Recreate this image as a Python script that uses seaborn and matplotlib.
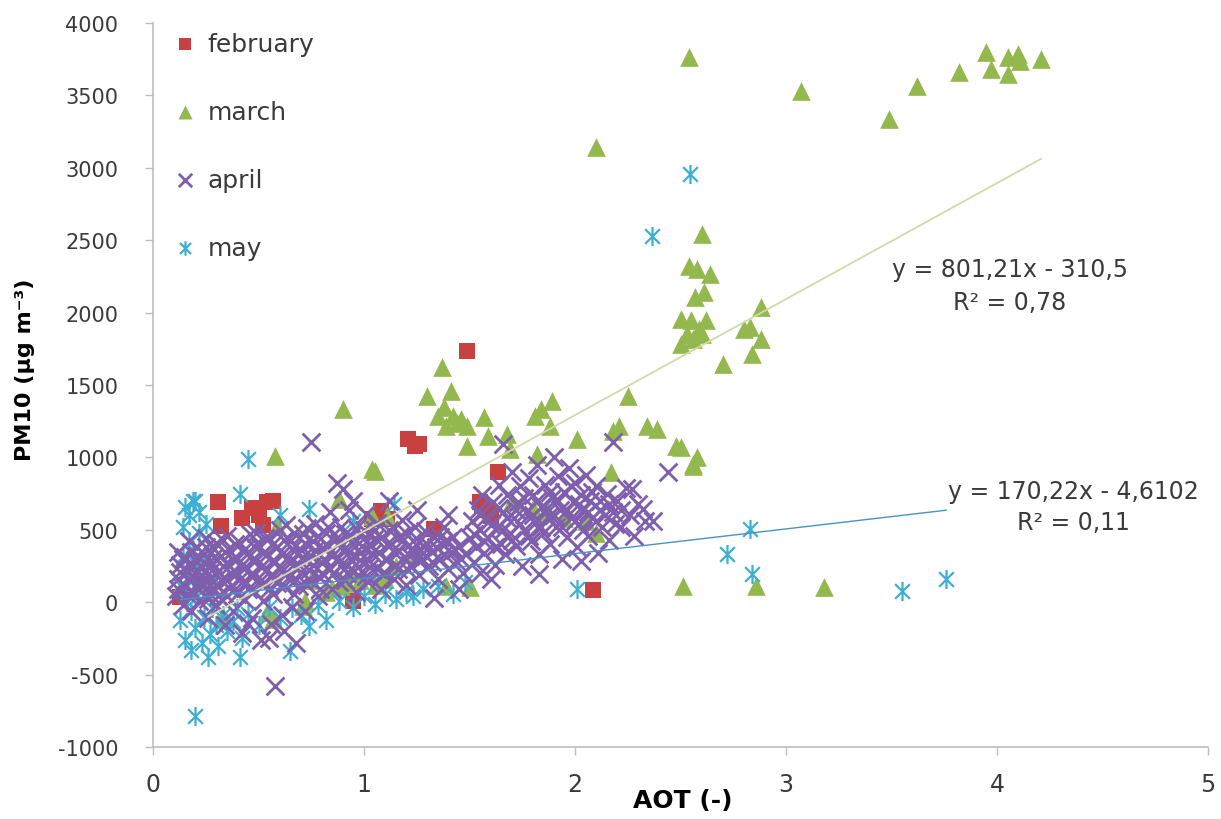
import matplotlib
matplotlib.use("Agg")
import numpy as np
import pandas as pd
import matplotlib.pyplot as plt
import seaborn as sns
from matplotlib.path import Path

# ---- measurements: (AOT, PM10) pairs per month ----
feb_points = [
    (0.13, 38), (0.31, 694), (0.32, 528), (0.42, 580), (0.47, 650), (0.50, 600),
    (0.54, 690), (0.57, 700), (0.52, 530), (0.95, 10), (1.04, 577), (1.08, 632),
    (1.11, 577), (1.21, 1129), (1.24, 1081), (1.26, 1095), (1.33, 508), (1.49, 1737),
    (1.55, 694), (1.56, 666), (1.60, 597), (1.59, 640), (1.635, 901), (2.085, 86),
]

mar_points = [
    (3.49, 3339), (3.62, 3567), (3.82, 3664), (3.95, 3802), (3.97, 3684), (4.05, 3767),
    (4.05, 3650), (4.10, 3788), (4.11, 3740), (4.21, 3753),
    (2.54, 3767), (3.07, 3532), (2.10, 3146), (2.60, 2545),
    (2.54, 2324), (2.58, 2302), (2.64, 2269), (2.61, 2145), (2.57, 2110), (2.50, 1957),
    (2.53, 1854), (2.50, 1785), (2.56, 1820), (2.59, 1888), (2.62, 1950), (2.70, 1647),
    (2.80, 1888), (2.83, 1900), (2.84, 1716), (2.88, 1820), (2.88, 2041), (2.55, 1950),
    (2.60, 1850),
    (0.90, 1337), (1.37, 1627), (1.30, 1426), (1.41, 1461), (1.38, 1350), (1.35, 1288),
    (1.42, 1288), (1.46, 1267), (1.39, 1219), (1.49, 1219), (1.57, 1281), (1.59, 1150),
    (1.68, 1164), (1.49, 1081), (1.69, 1060), (1.81, 1288), (1.84, 1337), (1.89, 1392),
    (1.88, 1219), (1.82, 1026), (2.01, 1129), (2.25, 1426), (2.18, 1184), (2.21, 1219),
    (2.34, 1219), (2.39, 1198), (2.17, 901), (1.05, 908), (2.48, 1081), (2.56, 943),
    (2.58, 1005), (2.50, 1074), (2.56, 957), (0.58, 1012), (1.44, 1240), (1.04, 920),
    (2.51, 114), (2.86, 114), (3.18, 107),
    (0.88, 715), (0.59, 528), (1.04, 598), (1.11, 598), (0.89, 114), (0.82, 72),
    (0.54, -66), (0.57, -114), (0.71, -24), (0.33, -93), (0.33, -114), (0.72, 10),
    (1.39, 114), (1.50, 107), (1.80, 650), (1.87, 620), (1.95, 580), (2.05, 560),
    (1.70, 700), (2.10, 480), (1.25, 330), (1.15, 250), (0.95, 200), (0.75, 150),
    (0.85, 100), (0.92, 130), (0.98, 150), (1.05, 120), (1.10, 160), (0.26, 150),
]

apr_points = [
    (0.11, 40), (0.12, 160), (0.13, 260), (0.12, 350), (0.14, -20), (0.15, 110),
    (0.16, 210), (0.15, 310), (0.17, 420), (0.18, -60), (0.19, 70), (0.19, 180),
    (0.20, 290), (0.21, 380), (0.22, 10), (0.23, 130), (0.23, 240), (0.24, 330),
    (0.25, 440), (0.26, -110), (0.27, 60), (0.27, 170), (0.28, 270), (0.29, 370),
    (0.30, -20), (0.31, 110), (0.31, 210), (0.32, 320), (0.33, 430), (0.34, -160),
    (0.35, 40), (0.35, 150), (0.36, 250), (0.37, 350), (0.38, -60), (0.39, 90),
    (0.40, 200), (0.40, 300), (0.41, 410), (0.42, -210), (0.43, 20), (0.44, 140),
    (0.44, 240), (0.45, 340), (0.46, 470), (0.47, -110), (0.48, 80), (0.48, 190),
    (0.49, 290), (0.50, 390), (0.51, -260), (0.52, 10), (0.53, 130), (0.54, 230),
    (0.54, 330), (0.55, 440), (0.56, -150), (0.57, 60), (0.58, 170), (0.58, 280),
    (0.59, 380), (0.60, 500), (0.61, -90), (0.62, 110), (0.63, 210), (0.64, 310),
    (0.65, 420), (0.66, -30), (0.67, 60), (0.68, 160), (0.69, 260), (0.70, 360),
    (0.71, 470), (0.72, -60), (0.73, 120), (0.74, 220), (0.75, 320), (0.76, 420),
    (0.77, 540), (0.78, 40), (0.79, 170), (0.80, 270), (0.81, 370), (0.82, 480),
    (0.84, 620), (0.85, 90), (0.86, 200), (0.87, 300), (0.88, 410), (0.89, 520),
    (0.90, 780), (0.91, 150), (0.92, 250), (0.93, 350), (0.94, 460), (0.95, 700),
    (0.96, 70), (0.97, 190), (0.98, 290), (0.99, 390), (1.00, 500), (1.01, 610),
    (1.02, 140), (1.03, 240), (1.04, 340), (1.05, 440), (1.06, 550), (1.08, 90),
    (1.09, 200), (1.10, 300), (1.11, 400), (1.12, 500), (1.14, 160), (1.15, 260),
    (1.16, 360), (1.17, 460), (1.18, 570), (1.20, 120), (1.21, 220), (1.22, 320),
    (1.23, 420), (1.24, 520), (1.26, 190), (1.27, 290), (1.28, 390), (1.29, 490),
    (1.31, 250), (1.32, 350), (1.33, 450), (1.35, 160), (1.36, 300), (1.37, 400),
    (1.38, 520), (1.40, 230), (1.41, 350), (1.42, 450), (1.44, 280), (1.45, 390),
    (1.47, 200), (1.48, 330),
    (0.12, 90), (0.13, 210), (0.14, 300), (0.16, 60), (0.17, 160), (0.18, 260),
    (0.18, 350), (0.20, 110), (0.20, 200), (0.21, 320), (0.22, 90), (0.23, 190),
    (0.24, 280), (0.25, 380), (0.26, 20), (0.27, 120), (0.28, 220), (0.29, 310),
    (0.30, 410), (0.31, 40), (0.32, 150), (0.33, 250), (0.34, 350), (0.35, 460),
    (0.36, 100), (0.37, 200), (0.38, 300), (0.39, 400), (0.40, 60), (0.41, 160),
    (0.42, 260), (0.43, 360), (0.45, 90), (0.46, 190), (0.47, 290), (0.48, 390),
    (0.49, 480), (0.50, 140), (0.51, 240), (0.52, 340), (0.53, 440), (0.55, 90),
    (0.56, 190), (0.57, 290), (0.57, 400), (0.59, 130), (0.60, 230), (0.61, 330),
    (0.62, 430), (0.63, 530), (0.64, 170), (0.65, 270), (0.66, 370), (0.67, 480),
    (0.69, 110), (0.70, 210), (0.71, 310), (0.72, 410), (0.73, 510), (0.74, 160),
    (0.76, 260), (0.77, 360), (0.78, 460), (0.79, 90), (0.80, 200), (0.81, 300),
    (0.82, 400), (0.83, 520), (0.84, 230), (0.86, 330), (0.87, 440), (0.88, 140),
    (0.89, 260), (0.90, 360), (0.91, 470), (0.92, 200), (0.94, 300), (0.95, 400),
    (0.96, 510), (0.97, 240), (0.98, 340), (1.00, 440), (1.01, 180), (1.02, 290),
    (1.03, 390), (1.05, 500), (1.06, 230), (1.07, 340), (1.08, 440), (1.10, 200),
    (1.11, 300), (1.13, 400), (1.14, 510), (1.15, 330), (1.16, 230), (1.18, 420),
    (1.19, 310), (1.20, 480), (1.22, 260), (1.23, 370), (1.25, 300), (1.26, 420),
    (1.28, 340), (1.30, 400), (1.32, 280), (1.34, 380), (1.36, 450), (1.38, 330),
    (1.40, 420), (1.43, 360), (1.46, 300),
    (1.50, 440), (1.51, 560), (1.52, 280), (1.53, 380), (1.54, 640), (1.55, 500),
    (1.56, 740), (1.57, 340), (1.58, 590), (1.59, 440), (1.61, 690), (1.62, 260),
    (1.63, 520), (1.64, 810), (1.65, 400), (1.66, 620), (1.67, 330), (1.68, 740),
    (1.69, 480), (1.70, 900), (1.71, 580), (1.72, 390), (1.73, 690), (1.74, 800),
    (1.75, 250), (1.76, 500), (1.77, 620), (1.78, 860), (1.79, 420), (1.80, 740),
    (1.81, 550), (1.82, 950), (1.83, 330), (1.84, 660), (1.85, 480), (1.86, 810),
    (1.87, 590), (1.88, 400), (1.89, 720), (1.90, 1000), (1.91, 520), (1.92, 870),
    (1.93, 640), (1.94, 300), (1.95, 760), (1.96, 450), (1.97, 930), (1.98, 580),
    (1.99, 690), (2.00, 820), (2.01, 380), (2.02, 540), (2.03, 740), (2.04, 640),
    (2.05, 880), (2.06, 460), (2.07, 700), (2.08, 580), (2.10, 800), (2.11, 340),
    (2.12, 640), (2.13, 520), (2.15, 750), (2.16, 430), (2.18, 620), (2.20, 700),
    (2.22, 520), (2.24, 790), (2.26, 600), (2.28, 460), (2.30, 680), (2.33, 560),
    (1.52, 470), (1.55, 600), (1.57, 420), (1.60, 530), (1.62, 380), (1.64, 650),
    (1.66, 500), (1.68, 580), (1.70, 430), (1.72, 640), (1.74, 540), (1.76, 720),
    (1.78, 460), (1.80, 600), (1.82, 700), (1.84, 520), (1.86, 640), (1.88, 760),
    (1.90, 600), (1.92, 700), (1.94, 520), (1.96, 640), (1.98, 800), (2.00, 560),
    (2.02, 680), (2.04, 500), (2.06, 620), (2.08, 760), (2.10, 560), (2.12, 700),
    (2.14, 600), (2.16, 680), (2.19, 540), (2.22, 640),
    (0.75, 1108), (0.58, -576), (1.66, 1094), (2.18, 1108), (2.44, 901), (1.60, 162),
    (1.83, 197), (2.03, 287), (2.37, 563), (2.32, 646), (2.27, 784), (0.55, -250),
    (0.62, -200), (0.45, -150), (0.68, -280), (0.87, 820), (0.93, 640), (1.12, 700),
    (1.25, 640), (1.40, 600), (1.45, 90), (1.33, 30), (1.55, 200),
]

may_points = [
    (0.13, -120), (0.13, 120), (0.14, 320), (0.14, 520), (0.15, 660), (0.15, -260),
    (0.16, 0), (0.16, 220), (0.17, 420), (0.17, 600), (0.18, -330), (0.18, -60),
    (0.19, 150), (0.19, 360), (0.20, 700), (0.20, -180), (0.21, 40), (0.21, 260),
    (0.22, 480), (0.22, 620), (0.23, -280), (0.24, -100), (0.24, 90), (0.25, 300),
    (0.25, 540), (0.26, -378), (0.27, -220), (0.28, -40), (0.29, 170), (0.30, -160),
    (0.31, -300), (0.33, -90), (0.35, -200), (0.38, -130), (0.40, -40), (0.42, -250),
    (0.45, -80), (0.50, -160), (0.55, -30), (0.60, -110), (0.65, -335), (0.66, -40),
    (0.70, -90), (0.74, -162), (0.78, -20), (0.82, -120), (0.88, 10), (0.95, -30),
    (1.00, 40), (1.05, -10), (1.10, 60), (1.15, 20), (1.20, 70), (1.23, 45),
    (1.28, 90), (1.35, 110), (1.42, 60), (1.48, 140),
    (0.20, -783), (0.41, -378), (0.45, 991), (0.41, 749), (0.74, 645), (1.14, 680),
    (0.95, 560), (0.60, 600), (0.19, 701),
    (2.545, 2958), (2.365, 2531), (2.83, 505), (2.72, 335), (2.84, 197), (2.01, 93),
    (3.55, 80), (3.76, 162),
]

# linear trend lines (slope, intercept) and their R²
mar_fit = (801.21, -310.5)
mar_r2 = "0,78"
may_fit = (170.22, -4.6102)
may_r2 = "0,11"

x_ticks = [0, 1, 2, 3, 4, 5]
y_ticks = list(range(-1000, 4001, 500))

RED = "#C8403F"
GREEN = "#93B84E"
PURPLE = "#7E5EAD"
CYAN = "#3DAFD2"
TEXT = "#3A3A3A"
AXIS = "#BDBDBD"

sns.set_style("white")
plt.rcParams["font.family"] = ["DejaVu Sans"]

fig = plt.figure(figsize=(12.21, 8.2), dpi=100)
ax = fig.add_axes([153 / 1221, 1 - 748 / 820, 1055 / 1221, 724 / 820])


def frame(points):
    return pd.DataFrame(points, columns=["aot", "pm10"])


# asterisk marker: an x with a vertical bar
star = Path([(-1, -1), (1, 1), (-1, 1), (1, -1), (0, -1.3), (0, 1.3)],
            [Path.MOVETO, Path.LINETO] * 3)

sns.scatterplot(data=frame(feb_points), x="aot", y="pm10", marker="s", s=125,
                color=RED, edgecolor=RED, linewidth=0, label="february", ax=ax, zorder=3)
sns.scatterplot(data=frame(mar_points), x="aot", y="pm10", marker="^", s=180,
                color=GREEN, edgecolor=GREEN, linewidth=0, label="march", ax=ax, zorder=3)
sns.scatterplot(data=frame(may_points), x="aot", y="pm10", marker=star, s=190,
                color=CYAN, edgecolor=CYAN, linewidth=1.6, label="may", ax=ax, zorder=3)
sns.scatterplot(data=frame(apr_points), x="aot", y="pm10", marker="x", s=165,
                color=PURPLE, linewidth=2.0, label="april", ax=ax, zorder=3)

# trend lines over the range of each month's data
mar_x = np.array([min(p[0] for p in mar_points), max(p[0] for p in mar_points)])
may_x = np.array([min(p[0] for p in may_points), max(p[0] for p in may_points)])
sns.lineplot(x=mar_x, y=mar_fit[0] * mar_x + mar_fit[1], color="#D3D9A8",
             linewidth=1.3, ax=ax, zorder=4, legend=False)
sns.lineplot(x=may_x, y=may_fit[0] * may_x + may_fit[1], color="#4A92C6",
             linewidth=1.0, ax=ax, zorder=4, legend=False)

eq_kw = dict(fontsize=17, color=TEXT, ha="center", va="center", zorder=6)
ax.text(4.06, 2303, f"y = {mar_fit[0]:.2f}x - {abs(mar_fit[1]):.1f}".replace(".", ","), **eq_kw)
ax.text(4.06, 2075, f"R² = {mar_r2}", **eq_kw)
ax.text(4.36, 770, f"y = {may_fit[0]:.2f}x - {abs(may_fit[1]):.4f}".replace(".", ","), **eq_kw)
ax.text(4.36, 556, f"R² = {may_r2}", **eq_kw)

ax.set_xlim(0, 5)
ax.set_ylim(-1000, 4000)
ax.set_xticks(x_ticks)
ax.set_yticks(y_ticks)
ax.set_xticklabels([str(t) for t in x_ticks], fontsize=17, color=TEXT,
                   family=["Liberation Sans Narrow", "DejaVu Sans"])
ax.set_yticklabels([str(t) for t in y_ticks], fontsize=15, color=TEXT)
ax.tick_params(axis="y", direction="out", length=6, width=1, color=AXIS, pad=19, left=True)
ax.tick_params(axis="x", direction="out", length=6, width=1, color=AXIS, pad=12, bottom=True)

for side in ("top", "right"):
    ax.spines[side].set_visible(False)
for side in ("left", "bottom"):
    ax.spines[side].set_color(AXIS)
    ax.spines[side].set_linewidth(1.2)

ax.set_xlabel("AOT (-)", fontsize=18, fontweight="bold", color="black")
ax.xaxis.set_label_coords(0.502, -0.056)
ax.set_ylabel("PM10 (µg m⁻³)", fontsize=16, fontweight="bold", color="black")
ax.yaxis.set_label_coords(-0.121, 0.522)
ax.yaxis.label.set_va("center")

handles, labels = ax.get_legend_handles_labels()
order = [labels.index(n) for n in ("february", "march", "april", "may")]
leg = ax.legend([handles[i] for i in order], [labels[i] for i in order],
                loc="upper left", bbox_to_anchor=(0.0188, 0.9875), frameon=False,
                fontsize=18, labelspacing=1.76, handlelength=1.0, handletextpad=0.4,
                borderpad=0, borderaxespad=0, markerscale=0.75)
for t in leg.get_texts():
    t.set_color(TEXT)

fig.savefig("out.png", dpi=100)
